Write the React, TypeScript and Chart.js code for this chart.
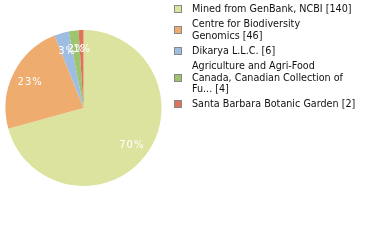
import React, { useEffect, useRef } from "react";
import { Chart, registerables } from "chart.js";

Chart.register(...registerables);

const categories = [
  "Mined from GenBank, NCBI",
  "Centre for Biodiversity Genomics",
  "Dikarya L.L.C.",
  "Agriculture and Agri-Food Canada, Canadian Collection of Fu...",
  "Santa Barbara Botanic Garden",
];
// how the legend breaks each name into lines
const legendLines = [
  ["Mined from GenBank, NCBI"],
  ["Centre for Biodiversity", "Genomics"],
  ["Dikarya L.L.C."],
  ["Agriculture and Agri-Food", "Canada, Canadian Collection of", "Fu..."],
  ["Santa Barbara Botanic Garden"],
];
const counts = [140, 46, 6, 4, 2];
const colors = ["#dce39e", "#efac6f", "#9ebde0", "#9dc46f", "#e0725a"];

const FONT = "'DejaVu Sans Condensed', 'DejaVu Sans', sans-serif";

const pctLabels = {
  id: "pctLabels",
  afterDatasetsDraw(chart: any) {
    const ctx = chart.ctx;
    const meta = chart.getDatasetMeta(0);
    const data = chart.data.datasets[0].data as number[];
    const total = data.reduce((a, b) => a + b, 0);
    ctx.save();
    ctx.fillStyle = "#ffffff";
    ctx.font = "10px 'DejaVu Sans', sans-serif";
    (ctx as any).letterSpacing = "1px";
    ctx.textAlign = "center";
    ctx.textBaseline = "middle";
    meta.data.forEach((arc: any, i: number) => {
      const p = arc.getProps(["x", "y", "startAngle", "endAngle", "outerRadius"], true);
      const mid = (p.startAngle + p.endAngle) / 2;
      const r = p.outerRadius * 0.77;
      const pct = Math.floor((data[i] / total) * 100);
      ctx.fillText(pct + "%", p.x + Math.cos(mid) * r + 0.5, p.y + Math.sin(mid) * r + 1);
    });
    ctx.restore();
  },
};

export default function App() {
  const ref = useRef<HTMLCanvasElement | null>(null);
  useEffect(() => {
    if (!ref.current) return;
    const chart = new Chart(ref.current, {
      type: "pie",
      data: {
        labels: categories,
        datasets: [
          {
            data: counts,
            backgroundColor: colors,
            borderWidth: 0,
          },
        ],
      },
      options: {
        responsive: false,
        animation: false,
        layout: { padding: { left: 5.5, top: 30, right: 218.5, bottom: 54 } },
        plugins: {
          legend: { display: false },
          tooltip: { enabled: false },
        },
      },
      plugins: [pctLabels],
    });
    return () => chart.destroy();
  }, []);

  return (
    <div style={{ position: "fixed", left: 0, top: 0, width: 380, height: 240, background: "#fff" }}>
      <canvas ref={ref} width={380} height={240} style={{ position: "absolute", left: 0, top: 0 }} />
      <div
        style={{
          position: "absolute",
          left: 174,
          top: 3,
          width: 206,
          fontFamily: FONT,
          fontSize: 10.7,
          lineHeight: "11.7px",
          color: "#111",
        }}
      >
        {legendLines.map((lines, i) => (
          <div key={i} style={{ display: "flex", alignItems: "center", marginBottom: 3.4 }}>
            <div
              style={{
                width: 6,
                height: 6,
                border: "1px solid #888",
                background: colors[i],
                flex: "none",
              }}
            />
            <div style={{ marginLeft: 10, whiteSpace: "nowrap" }}>
              {lines.map((l, j) => (
                <div key={j}>{j === lines.length - 1 ? l + " [" + counts[i] + "]" : l}</div>
              ))}
            </div>
          </div>
        ))}
      </div>
    </div>
  );
}
